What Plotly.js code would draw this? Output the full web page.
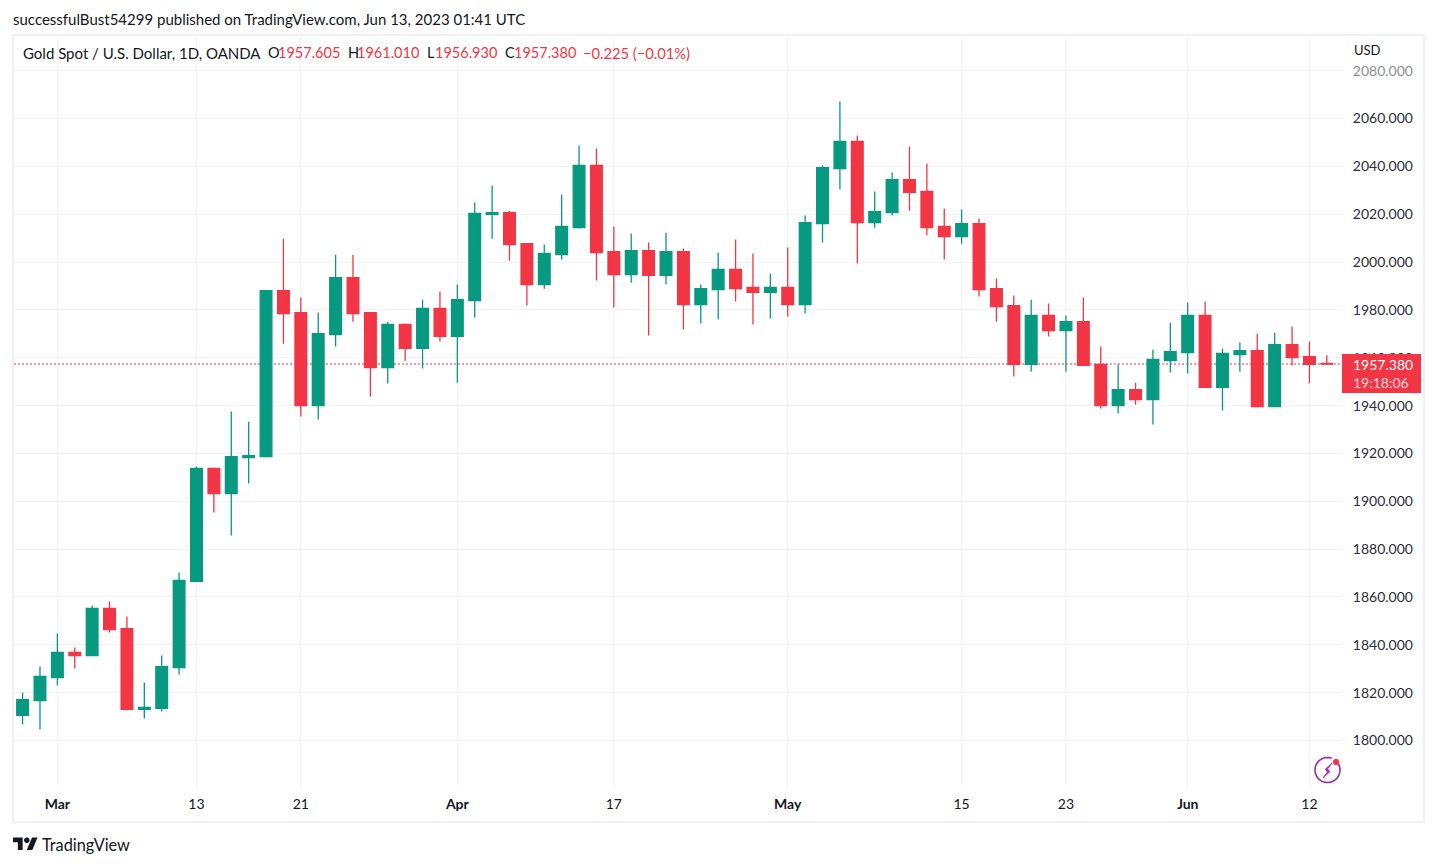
<!DOCTYPE html>
<html>
<head>
<meta charset="utf-8">
<script src="https://cdn.plot.ly/plotly-3.0.1.min.js"></script>
<style>html,body{margin:0;padding:0;background:#fff;overflow:hidden}</style>
</head>
<body>
<div id="chart" style="width:1437px;height:866px"></div>
<script>
const barIndex = Array.from({length: 76}, (_, i) => i);
const openPrices = [1810.5,1816.7,1826.3,1836.8,1835.5,1855.2,1846.8,1813.0,1813.4,1830.5,1866.5,1913.7,1903.2,1918.3,1918.7,1988.1,1978.9,1940.0,1969.7,1993.5,1978.9,1955.9,1973.9,1963.9,1980.6,1968.9,1983.9,2019.9,2020.7,2007.7,1990.6,2003.1,2014.4,2040.4,2004.4,1994.8,2004.8,1994.4,2004.4,1982.2,1988.5,1996.9,1989.4,1987.3,1989.4,1982.2,2016.1,2039.1,2050.4,2016.5,2020.7,2034.5,2029.5,2014.9,2010.7,2016.1,1988.9,1981.8,1957.2,1977.7,1971.4,1975.1,1957.2,1940.0,1946.7,1942.5,1958.8,1962.2,1977.7,1947.6,1961.3,1963.0,1939.6,1965.5,1960.5,1957.605];
const highPrices = [1820.1,1830.9,1844.7,1838.9,1856.4,1858.1,1851.8,1824.2,1835.5,1870.2,1914.5,1914.1,1937.5,1933.3,1988.1,2009.8,1985.2,1978.9,2003.1,2003.1,1978.9,1975.1,1974.3,1984.3,1987.7,1990.6,2024.9,2032.0,2021.5,2007.7,2007.3,2028.2,2048.7,2047.5,2014.9,2011.9,2008.2,2012.3,2005.7,1990.6,2004.0,2009.4,2003.6,1995.2,2006.1,2019.5,2040.4,2067.1,2052.9,2029.5,2037.4,2048.3,2041.2,2022.4,2022.0,2018.2,1993.1,1986.0,1984.3,1982.7,1977.7,1985.2,1964.7,1957.2,1949.6,1963.4,1974.7,1983.1,1983.5,1963.9,1966.4,1970.1,1970.5,1973.1,1966.8,1961.01];
const lowPrices = [1806.7,1804.6,1823.0,1830.1,1835.5,1845.1,1812.5,1809.2,1812.1,1827.6,1866.5,1895.3,1885.7,1907.4,1918.3,1965.9,1935.4,1934.2,1964.7,1975.1,1943.8,1949.2,1958.8,1955.5,1966.8,1949.6,1976.8,2009.8,2000.6,1981.8,1988.9,2001.1,2014.0,1992.3,1981.0,1991.4,1969.3,1990.6,1971.8,1974.3,1976.0,1983.5,1973.9,1976.4,1977.2,1978.5,2008.2,2030.3,1999.4,2014.4,2019.5,2021.5,2011.1,2001.1,2007.7,1985.6,1975.1,1952.2,1954.2,1968.9,1954.2,1956.8,1938.8,1936.7,1940.4,1932.1,1953.8,1953.4,1947.6,1937.9,1954.2,1939.6,1939.6,1956.8,1949.2,1956.93];
const closePrices = [1817.1,1826.8,1836.8,1835.5,1855.2,1846.4,1813.0,1813.8,1830.9,1866.9,1913.7,1903.2,1918.7,1919.1,1988.1,1978.5,1940.0,1970.1,1993.5,1978.5,1955.9,1973.9,1963.9,1980.6,1968.9,1984.3,2020.3,2020.7,2007.3,1990.6,2003.6,2014.9,2040.4,2004.0,1994.8,2004.8,1994.4,2004.4,1982.2,1988.9,1996.9,1988.9,1987.3,1989.4,1982.2,2016.5,2039.5,2050.4,2016.5,2021.1,2034.5,2029.1,2014.4,2010.7,2016.1,1988.5,1981.4,1957.2,1977.7,1971.4,1975.1,1956.8,1940.0,1946.7,1942.5,1959.3,1962.6,1977.7,1947.6,1961.8,1963.0,1939.6,1965.5,1960.1,1957.2,1957.38];
const xTickPositions = [2,10,16,25,34,44,54,60,67,74];
const xTickLabels = ['<b>Mar</b>','13','21','<b>Apr</b>','17','<b>May</b>','15','23','<b>Jun</b>','12'];
const lastPrice = 1957.38;
const UP = '#089981', DOWN = '#F23645', GRID = '#f0f3fa', BORDER = '#eff1f7', INK = '#131722';
const FONT = 'Lato, "Open Sans", sans-serif';
const W = 1437, H = 866;
const fx = x => x / W, fy = y => 1 - y / H;
const pathOf = pts => pts.map((p, i) => (i ? 'L' : 'M') + fx(p[0]).toFixed(5) + ',' + fy(p[1]).toFixed(5)).join(' ') + ' Z';
const circlePath = (cx, cy, r, a0, a1, n) => { let s = ''; for (let i = 0; i <= n; i++) { const a = (a0 + (a1 - a0) * i / n) * Math.PI / 180; s += (i ? 'L' : 'M') + fx(cx + r * Math.cos(a)).toFixed(5) + ',' + fy(cy + r * Math.sin(a)).toFixed(5) + ' '; } return s; };

const txt = (x, y, text, color, size, anchor, extra) => Object.assign({xref:'paper', yref:'paper', x:fx(x - 1), y:fy(y), xanchor:anchor||'left', yanchor:'middle', text, showarrow:false, align:'left', borderpad:0, font:{family:FONT, size:size||14, color:color||INK}}, extra||{});

const lg = v => 834.7 + v * 0.69, lx = v => 13 + v * 0.69;
const logoPts1 = [[14,22],[7,22],[7,11],[0,11],[0,4],[14,4]].map(p => [lx(p[0]), lg(p[1])]);
const logoPts2 = [[28,22],[20,22],[27.5,4],[35.5,4]].map(p => [lx(p[0]), lg(p[1])]);

const shapes = [
  {type:'rect', xref:'paper', yref:'paper', x0:fx(13), x1:fx(1424), y0:fy(35), y1:fy(822), line:{color:BORDER, width:2}, layer:'above'},
  {type:'line', xref:'paper', yref:'y', x0:fx(14), x1:fx(1342), y0:lastPrice, y1:lastPrice, line:{color:DOWN, width:1, dash:'2px,2px'}, layer:'below'},
  {type:'rect', xref:'paper', yref:'paper', x0:fx(1345), x1:fx(1420), y0:fy(62), y1:fy(78), fillcolor:'rgba(255,255,255,0.45)', line:{width:0}, layer:'above'},
  {type:'rect', xref:'paper', yref:'paper', x0:fx(1342), x1:fx(1421), y0:fy(354), y1:fy(393), fillcolor:DOWN, line:{width:0}, layer:'above'},
  {type:'path', xref:'paper', yref:'paper', path:pathOf(logoPts1), fillcolor:INK, line:{width:0}},
  {type:'path', xref:'paper', yref:'paper', path:pathOf(logoPts2), fillcolor:INK, line:{width:0}},
  {type:'path', xref:'paper', yref:'paper', path:circlePath(lx(20), lg(8), 2.76, 0, 360, 24) + 'Z', fillcolor:INK, line:{width:0}},
  {type:'path', xref:'paper', yref:'paper', path:circlePath(1327.5, 770, 12.5, -30, 290, 48), line:{color:'#9c27b0', width:1.6}, layer:'above'},
  {type:'path', xref:'paper', yref:'paper', path:pathOf([[1332,763],[1325,769.5],[1329,770],[1323,778],[1330,771.5],[1326,771],[1332,763]]), fillcolor:'#9c27b0', line:{color:'#9c27b0', width:0.8}, layer:'above'},
  {type:'path', xref:'paper', yref:'paper', path:circlePath(1336, 762, 3.2, 0, 360, 24) + 'Z', fillcolor:DOWN, line:{width:0}, layer:'above'}
];

const annotations = [
  txt(13, 19, 'successfulBust54299 published on TradingView.com, Jun 13, 2023 01:41 UTC', INK, 15),
  txt(23, 53, 'Gold Spot / U.S. Dollar, 1D, OANDA', INK, 15),
  txt(268, 53, 'O', INK, 14.5), txt(278, 53, '1957.605', DOWN, 14.5),
  txt(348, 53, 'H', INK, 14.5), txt(357, 53, '1961.010', DOWN, 14.5),
  txt(427, 53, 'L', INK, 14.5), txt(435, 53, '1956.930', DOWN, 14.5),
  txt(505, 53, 'C', INK, 14.5), txt(514, 53, '1957.380', DOWN, 14.5),
  txt(583, 53, '−0.225 (−0.01%)', DOWN, 14.7),
  txt(1354, 50, 'USD', INK, 13),
  txt(1353, 364, '1957.380', '#ffffff', 14),
  txt(1353, 382, '19:18:06', '#ffd9dd', 14),
  txt(42, 844, 'TradingView', INK, 16.3)
];

Plotly.newPlot('chart', [{
  type:'candlestick', x:barIndex, open:openPrices, high:highPrices, low:lowPrices, close:closePrices,
  increasing:{line:{color:UP, width:1.3}, fillcolor:UP},
  decreasing:{line:{color:DOWN, width:1.3}, fillcolor:DOWN},
  whiskerwidth:0, hoverinfo:'none'
}], {
  width:W, height:H, margin:{l:0, r:0, t:0, b:0}, paper_bgcolor:'#fff', plot_bgcolor:'#fff',
  showlegend:false, boxgap:0.327, boxgroupgap:0,
  font:{family:FONT, size:14, color:INK},
  xaxis:{domain:[fx(14), fx(1342)], range:[-0.494, 75.873], rangeslider:{visible:false}, tickmode:'array', tickvals:xTickPositions, ticktext:xTickLabels, showgrid:true, gridcolor:GRID, gridwidth:1, zeroline:false, showline:false, ticks:'outside', ticklen:4, tickcolor:'rgba(0,0,0,0)', tickfont:{family:FONT, size:14, color:INK}, tickangle:0, automargin:false, fixedrange:true},
  yaxis:{domain:[fy(787.5), fy(36.5)], range:[1780.35, 2094.3], side:'right', tick0:1800, dtick:20, tickformat:'.3f', showgrid:true, gridcolor:GRID, gridwidth:1, zeroline:false, showline:false, ticks:'outside', ticklen:7, tickcolor:'rgba(0,0,0,0)', tickfont:{family:FONT, size:14, color:'#2a2e39'}, automargin:false, fixedrange:true},
  shapes, annotations,
  hovermode:false
}, {displayModeBar:false, staticPlot:true});
</script>
</body>
</html>
